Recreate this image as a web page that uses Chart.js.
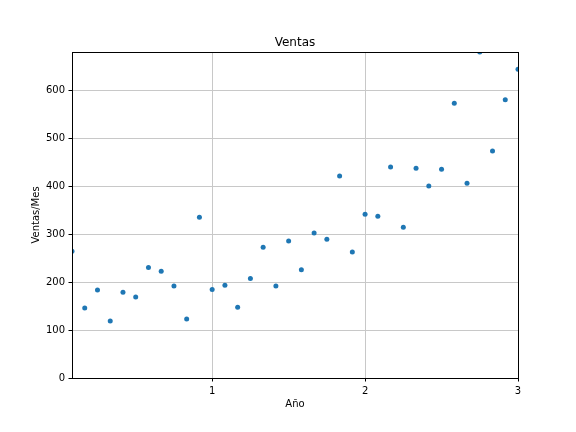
<!DOCTYPE html>
<html>
<head>
<meta charset="utf-8">
<script src="https://cdn.jsdelivr.net/npm/chart.js@4"></script>
<style>
  html, body { margin: 0; padding: 0; background: #fff; }
  #chart { width: 576px; height: 432px; }
</style>
</head>
<body>
<div id="chart"><canvas id="c" width="576" height="432"></canvas></div>
<script>
// mes (1..36) y ventas
const meses = [1, 2, 3, 4, 5, 6, 7, 8, 9, 10, 11, 12,
               13, 14, 15, 16, 17, 18, 19, 20, 21, 22, 23, 24,
               25, 26, 27, 28, 29, 30, 31, 32, 33, 34, 35, 36];
const ventas = [265, 146, 184, 119, 179, 169, 231, 223, 192, 123, 336, 185,
                194, 148, 208, 273, 192, 286, 226, 303, 290, 422, 263, 342,
                338, 441, 315, 438, 401, 436, 574, 407, 681, 474, 581, 645];
const xTicks = [1, 2, 3];

const black = '#000000';
const grid = '#c8c8c8';

// marco completo alrededor del área del gráfico
const frame = {
    id: 'frame',
    afterDraw(chart) {
        const a = chart.chartArea;
        const ctx = chart.ctx;
        ctx.save();
        ctx.strokeStyle = black;
        ctx.lineWidth = 1;
        ctx.strokeRect(Math.round(a.left) + 0.5, Math.round(a.top) + 0.5,
                       Math.round(a.right - a.left), Math.round(a.bottom - a.top));
        ctx.restore();
    }
};

window.addEventListener('load', () => {
    const ctx = document.getElementById('c').getContext('2d');

    new Chart(ctx, {
        type: 'scatter',
        data: {
            datasets: [{
                label: 'Ventas',
                data: meses.map((m, i) => ({ x: m / 12, y: ventas[i] })),
                backgroundColor: '#1f77b4',
                borderColor: '#1f77b4',
                pointRadius: 2.5,
                pointBorderWidth: 0,
                clip: 0
            }]
        },
        options: {
            responsive: false,
            animation: false,
            devicePixelRatio: 1,
            layout: { padding: { left: 0, right: 58, top: 0, bottom: 0 } },
            plugins: {
                legend: { display: false },
                tooltip: { enabled: false },
                title: {
                    display: true,
                    fullSize: false,
                    text: 'Ventas',
                    color: black,
                    font: { family: 'DejaVu Sans', size: 12, weight: 'normal' },
                    padding: { top: 36, bottom: 1.6 }
                }
            },
            scales: {
                x: {
                    type: 'linear',
                    min: 1 / 12,
                    max: 3,
                    afterBuildTicks: scale => { scale.ticks = xTicks.map(v => ({ value: v })); },
                    afterFit: scale => { scale.height = 54; },
                    grid: { color: grid, tickColor: black, tickLength: 3.5 },
                    border: { color: black, width: 1 },
                    ticks: {
                        color: black,
                        padding: 4,
                        maxRotation: 0,
                        font: { family: 'DejaVu Sans', size: 10 }
                    },
                    title: {
                        display: true,
                        text: 'Año',
                        color: black,
                        font: { family: 'DejaVu Sans', size: 10 },
                        padding: { top: 0, bottom: 22 }
                    }
                },
                y: {
                    min: 0,
                    max: 681,
                    afterFit: scale => { scale.width = 72; },
                    grid: { color: grid, tickColor: black, tickLength: 3.5 },
                    border: { color: black, width: 1 },
                    ticks: {
                        stepSize: 100,
                        includeBounds: false,
                        color: black,
                        padding: 3.5,
                        font: { family: 'DejaVu Sans', size: 10 }
                    },
                    title: {
                        display: true,
                        text: 'Ventas/Mes',
                        color: black,
                        font: { family: 'DejaVu Sans', size: 10 },
                        padding: { top: 30, bottom: 0 }
                    }
                }
            }
        },
        plugins: [frame]
    });
});
</script>
</body>
</html>
